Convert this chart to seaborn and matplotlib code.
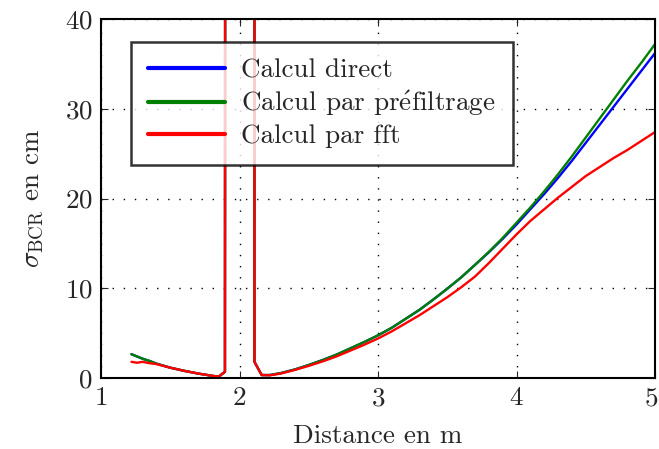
import numpy as np
import pandas as pd
import matplotlib
matplotlib.use("Agg")
import matplotlib.pyplot as plt
import matplotlib.transforms as mtransforms
import seaborn as sns

# ---- data ----
x_left = [1.22, 1.26, 1.30, 1.35, 1.40, 1.50, 1.60, 1.70, 1.80, 1.85, 1.895, 1.917]
x_right = [2.105, 2.108, 2.16, 2.22, 2.30, 2.40, 2.50, 2.60, 2.70, 2.80, 2.90, 3.00,
           3.10, 3.20, 3.30, 3.40, 3.50, 3.60, 3.70, 3.80, 3.90, 4.00, 4.10, 4.20,
           4.30, 4.40, 4.50, 4.60, 4.70, 4.80, 4.90, 5.00]
distance = x_left + x_right

direct_left = [2.65, 2.4, 2.15, 1.9, 1.6, 1.15, 0.8, 0.5, 0.25, 0.15, 0.7, 800]
direct_right = [800, 1.8, 0.33, 0.33, 0.55, 0.95, 1.45, 2.0, 2.6, 3.3, 4.0, 4.75,
                5.6, 6.6, 7.6, 8.75, 9.95, 11.2, 12.6, 14.0, 15.5, 17.1, 18.8, 20.5,
                22.3, 24.2, 26.2, 28.2, 30.2, 32.2, 34.2, 36.2]
prefiltre_left = [2.65, 2.4, 2.15, 1.9, 1.6, 1.15, 0.8, 0.5, 0.25, 0.15, 0.7, 800]
prefiltre_right = [800, 1.8, 0.33, 0.33, 0.55, 0.95, 1.45, 2.0, 2.6, 3.3, 4.0, 4.75,
                   5.6, 6.6, 7.6, 8.75, 9.95, 11.2, 12.6, 14.05, 15.6, 17.3, 19.0, 20.8,
                   22.7, 24.7, 26.8, 28.9, 31.0, 33.1, 35.1, 37.2]
fft_left = [1.8, 1.7, 1.8, 1.65, 1.55, 1.15, 0.8, 0.5, 0.25, 0.15, 0.7, 800]
fft_right = [800, 1.8, 0.33, 0.3, 0.5, 0.9, 1.35, 1.85, 2.4, 3.05, 3.7, 4.4,
             5.2, 6.1, 7.0, 8.0, 9.0, 10.1, 11.3, 12.8, 14.4, 16.0, 17.5, 18.8,
             20.1, 21.3, 22.5, 23.5, 24.5, 25.4, 26.4, 27.4]

labels = ["Calcul direct", r"Calcul par pr$\mathrm{\acute{e}}$filtrage", "Calcul par fft"]
colors = ["#0000ff", "#008000", "#ff0000"]
x_ticks = [1, 2, 3, 4, 5]
y_ticks = [0, 10, 20, 30, 40]

series = [direct_left + direct_right, prefiltre_left + prefiltre_right, fft_left + fft_right]
frames = []
for lab, vals in zip(labels, series):
    frames.append(pd.DataFrame({"distance": distance, "sigma": vals, "methode": lab}))
df = pd.concat(frames, ignore_index=True)

sns.set_style("ticks")
plt.rcParams["font.family"] = ["cmr10", "DejaVu Serif"]
plt.rcParams["mathtext.fontset"] = "cm"
plt.rcParams["axes.formatter.use_mathtext"] = True
plt.rcParams["axes.unicode_minus"] = False

FS = 19.5
fig = plt.figure(figsize=(6.59, 4.49), dpi=100)
ax = fig.add_axes([101 / 659, 1 - 378 / 449, 554 / 659, 359 / 449])

sns.lineplot(data=df, x="distance", y="sigma", hue="methode", hue_order=labels,
             palette=dict(zip(labels, colors)), sort=False, estimator=None,
             linewidth=1.7, ax=ax, legend=True)

ax.set_xlim(1, 5)
ax.set_ylim(0, 40)
ax.set_xticks(x_ticks)
ax.set_yticks(y_ticks)
ax.grid(True, linestyle=(0, (1, 7)), color="black", linewidth=1.0)
ax.tick_params(direction="in", top=True, right=True, length=5, width=0.8,
               labelsize=FS, pad=6)
for s in ax.spines.values():
    s.set_linewidth(1.5)
    s.set_color("black")

# nudge the last x tick label so it stays inside the canvas
last = ax.get_xticklabels()[-1]
last.set_transform(last.get_transform() +
                   mtransforms.ScaledTranslation(-3 / 72, 0, fig.dpi_scale_trans))

ax.set_xlabel("Distance en m", fontsize=FS, labelpad=10)
ax.set_ylabel(r"$\sigma_{\mathrm{BCR}}$ en cm", fontsize=FS, labelpad=14)

handles, labs = ax.get_legend_handles_labels()
leg = ax.legend(handles, labs, loc="upper left", bbox_to_anchor=(0.054, 0.936),
                fontsize=FS, frameon=True, fancybox=False, edgecolor="black",
                handlelength=2.85, handletextpad=0.6, labelspacing=0.22,
                borderpad=0.62, borderaxespad=0)
leg.get_frame().set_linewidth(1.8)
for ln in leg.get_lines():
    ln.set_linewidth(3.0)

fig.savefig("out.png", dpi=100)
